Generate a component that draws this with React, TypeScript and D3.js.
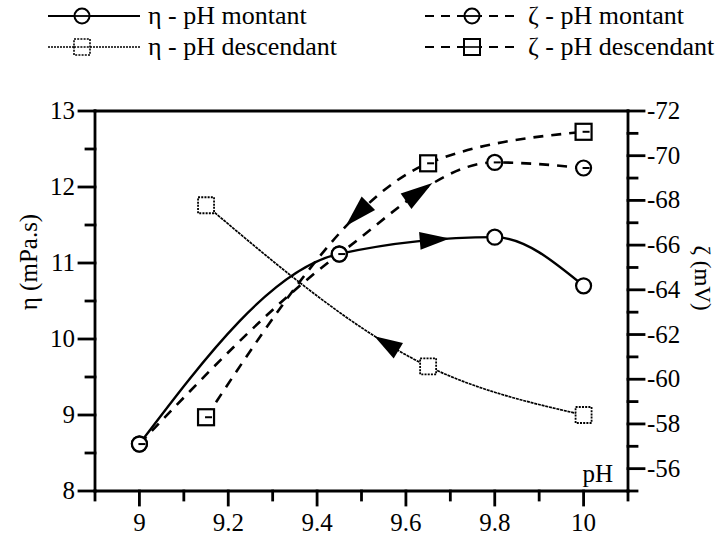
import React, { useEffect, useRef } from 'react';
import * as d3 from 'd3';

const W = 717;
const H = 536;

// pH values and measurements
const phMontant = [9, 9.45, 9.8, 10];
const etaMontant = [8.62, 11.12, 11.34, 10.7];
const zetaMontant = [-57.1, -65.6, -69.7, -69.45];

const phDescendant = [9.15, 9.65, 10];
const etaDescendant = [11.76, 9.64, 9.0];
const zetaDescendant = [-58.3, -69.66, -71.07];

// arrow positions (pH) along each curve
const arrowEtaMontant = 9.665;
const arrowZetaMontant = 9.63;
const arrowZetaDescendant = 9.49;
const arrowEtaDescendant = 9.556;

const xMajorTicks = [9, 9.2, 9.4, 9.6, 9.8, 10];
const xTickLabels = ['9', '9.2', '9.4', '9.6', '9.8', '10'];
const xMinorTicks = [8.9, 9.1, 9.3, 9.5, 9.7, 9.9, 10.1];
const etaMajorTicks = [8, 9, 10, 11, 12, 13];
const etaMinorTicks = [8.5, 9.5, 10.5, 11.5, 12.5];
const zetaMajorTicks = [-72, -70, -68, -66, -64, -62, -60, -58, -56];
const zetaMinorTicks = [-71, -69, -67, -65, -63, -61, -59, -57, -55];

const legendLabels = ['η - pH montant', 'ζ - pH montant', 'η - pH descendant', 'ζ - pH descendant'];

const FONT = "'Liberation Serif', 'Times New Roman', Times, 'DejaVu Serif', serif";

export default function App() {
  const ref = useRef<SVGSVGElement | null>(null);

  useEffect(() => {
    const svg = d3.select(ref.current);
    svg.selectAll('*').remove();

    const left = 95, right = 628, top = 111, bottom = 491;
    const x = d3.scaleLinear().domain([8.9, 10.1]).range([left, right]);
    const yEta = d3.scaleLinear().domain([8, 13]).range([bottom, top]);
    const yZeta = d3.scaleLinear().domain([-55, -72]).range([bottom, top]);

    const g = svg.append('g');
    const ax = g.append('g').attr('stroke', '#000').attr('stroke-width', 2.8).attr('stroke-linecap', 'square');

    ax.append('line').attr('x1', left).attr('x2', left).attr('y1', top).attr('y2', bottom);
    ax.append('line').attr('x1', right).attr('x2', right).attr('y1', top).attr('y2', bottom);
    ax.append('line').attr('x1', left).attr('x2', right).attr('y1', top).attr('y2', top);
    ax.append('line').attr('x1', left).attr('x2', right).attr('y1', bottom).attr('y2', bottom);

    const MAJ = 16, MIN = 9;
    xMajorTicks.forEach(v => ax.append('line').attr('x1', x(v)).attr('x2', x(v)).attr('y1', bottom).attr('y2', bottom + 14));
    xMinorTicks.forEach(v => ax.append('line').attr('x1', x(v)).attr('x2', x(v)).attr('y1', bottom).attr('y2', bottom + MIN));
    etaMajorTicks.forEach(v => ax.append('line').attr('x1', left - MAJ).attr('x2', left).attr('y1', yEta(v)).attr('y2', yEta(v)));
    etaMinorTicks.forEach(v => ax.append('line').attr('x1', left - MIN).attr('x2', left).attr('y1', yEta(v)).attr('y2', yEta(v)));
    zetaMajorTicks.forEach(v => ax.append('line').attr('x1', right).attr('x2', right + MAJ).attr('y1', yZeta(v)).attr('y2', yZeta(v)));
    zetaMinorTicks.forEach(v => ax.append('line').attr('x1', right).attr('x2', right + MIN).attr('y1', yZeta(v)).attr('y2', yZeta(v)));

    const txt = g.append('g').style('font-family', FONT).style('font-size', '25px').attr('fill', '#000');
    xMajorTicks.forEach((v, i) => txt.append('text').attr('x', x(v)).attr('y', 531).attr('text-anchor', 'middle').text(xTickLabels[i]));
    etaMajorTicks.forEach(v => txt.append('text').attr('x', 75).attr('y', yEta(v) + 8).attr('text-anchor', 'end').text(String(v)));
    zetaMajorTicks.forEach(v => txt.append('text').attr('x', 647).attr('y', yZeta(v) + 8).attr('text-anchor', 'start').text(String(v)));
    txt.append('text').attr('x', 613).attr('y', 482).attr('text-anchor', 'end').text('pH');
    txt.append('text').attr('transform', 'translate(37,262) rotate(-90)').attr('text-anchor', 'middle').text('η (mPa.s)');
    txt.append('text').attr('transform', 'translate(695,278) rotate(90)').attr('text-anchor', 'middle').style('font-size', '23px').text('ζ (mV)');

    const mk = (xs: number[], ys: number[], sc: (v: number) => number) =>
      d3.line<[number, number]>().x(d => x(d[0])).y(d => sc(d[1])).curve(d3.curveMonotoneX)(
        xs.map((p, i) => [p, ys[i]] as [number, number]));

    const plot = g.append('g').attr('fill', 'none').attr('stroke', '#000');
    const pEtaM = plot.append('path').attr('d', mk(phMontant, etaMontant, yEta)).attr('stroke-width', 2.4);
    const pZetaM = plot.append('path').attr('d', mk(phMontant, zetaMontant, yZeta)).attr('stroke-width', 2.6).attr('stroke-dasharray', '10,8');
    const pEtaD = plot.append('path').attr('d', mk(phDescendant, etaDescendant, yEta)).attr('stroke-width', 1.7).attr('stroke-dasharray', '3,0.8');
    const pZetaD = plot.append('path').attr('d', mk(phDescendant, zetaDescendant, yZeta)).attr('stroke-width', 2.6).attr('stroke-dasharray', '10,8');

    const arrowAt = (path: SVGPathElement, phv: number, forward: boolean, L: number, Wd: number) => {
      const total = path.getTotalLength();
      const tx = x(phv);
      let lo = 0, hi = total;
      for (let k = 0; k < 40; k++) {
        const mid = (lo + hi) / 2;
        if (path.getPointAtLength(mid).x < tx) lo = mid; else hi = mid;
      }
      const l = (lo + hi) / 2;
      const a = path.getPointAtLength(Math.max(0, l - 2));
      const b = path.getPointAtLength(Math.min(total, l + 2));
      let ang = Math.atan2(b.y - a.y, b.x - a.x);
      if (!forward) ang += Math.PI;
      const c = path.getPointAtLength(l);
      g.append('path')
        .attr('d', `M${L / 2},0 L${-L / 2},${-Wd / 2} L${-L / 2},${Wd / 2} Z`)
        .attr('transform', `translate(${c.x},${c.y}) rotate(${(ang * 180) / Math.PI})`)
        .attr('fill', '#000');
    };
    arrowAt(pEtaM.node() as SVGPathElement, arrowEtaMontant, true, 30, 18);
    arrowAt(pZetaM.node() as SVGPathElement, arrowZetaMontant, true, 32, 19);
    arrowAt(pZetaD.node() as SVGPathElement, arrowZetaDescendant, false, 32, 19);
    arrowAt(pEtaD.node() as SVGPathElement, arrowEtaDescendant, false, 28, 18);

    const mg = g.append('g').attr('stroke', '#000').attr('fill', '#fff');
    const circle = (cx: number, cy: number, dash: boolean) => {
      mg.append('circle').attr('cx', cx).attr('cy', cy).attr('r', 7.5).attr('stroke-width', 2.2);
      if (dash) mg.append('line').attr('x1', cx - 1).attr('x2', cx + 6).attr('y1', cy).attr('y2', cy).attr('stroke-width', 2);
    };
    const square = (cx: number, cy: number, dotted: boolean) => {
      mg.append('rect').attr('x', cx - 8).attr('y', cy - 8).attr('width', 16).attr('height', 16)
        .attr('stroke-width', dotted ? 1.8 : 2.2).attr('stroke-dasharray', dotted ? '2,1.2' : null);
      if (!dotted) mg.append('line').attr('x1', cx - 1).attr('x2', cx + 6).attr('y1', cy).attr('y2', cy).attr('stroke-width', 2);
    };
    phMontant.forEach((p, i) => circle(x(p), yEta(etaMontant[i]), false));
    phMontant.forEach((p, i) => circle(x(p), yZeta(zetaMontant[i]), true));
    phDescendant.forEach((p, i) => square(x(p), yEta(etaDescendant[i]), true));
    phDescendant.forEach((p, i) => square(x(p), yZeta(zetaDescendant[i]), false));

    // legend
    const lg = g.append('g');
    const rows = [16, 47];
    const cols = [{ x1: 48, x2: 140, m: 82, t: 148 }, { x1: 425, x2: 520, m: 472, t: 528 }];
    const items = [
      { c: 0, r: 0, dash: null as string | null, sw: 2.2, marker: 'circle', dotted: false },
      { c: 1, r: 0, dash: '9,7', sw: 2.2, marker: 'circle', dotted: false },
      { c: 0, r: 1, dash: '2,1', sw: 1.5, marker: 'square', dotted: true },
      { c: 1, r: 1, dash: '9,7', sw: 2.2, marker: 'square', dotted: false },
    ];
    items.forEach((it, i) => {
      const col = cols[it.c];
      const yy = rows[it.r];
      lg.append('line').attr('x1', col.x1).attr('x2', col.x2).attr('y1', yy).attr('y2', yy)
        .attr('stroke', '#000').attr('stroke-width', it.sw).attr('stroke-dasharray', it.dash);
      if (it.marker === 'circle') {
        lg.append('circle').attr('cx', col.m).attr('cy', yy).attr('r', 7.5).attr('fill', '#fff').attr('stroke', '#000').attr('stroke-width', 2);
        lg.append('line').attr('x1', col.m - 7).attr('x2', col.m + 7).attr('y1', yy).attr('y2', yy).attr('stroke', '#000').attr('stroke-width', 1.8);
      } else {
        lg.append('rect').attr('x', col.m - 8).attr('y', yy - 8).attr('width', 16).attr('height', 16).attr('fill', '#fff')
          .attr('stroke', '#000').attr('stroke-width', it.dotted ? 1.6 : 2).attr('stroke-dasharray', it.dotted ? '2,1.2' : null);
        lg.append('line').attr('x1', col.m - 8).attr('x2', col.m + 8).attr('y1', yy).attr('y2', yy).attr('stroke', '#000')
          .attr('stroke-width', 1.6).attr('stroke-dasharray', it.dotted ? '2,1.2' : null);
      }
      lg.append('text').attr('x', col.t).attr('y', yy + 8).style('font-family', FONT).style('font-size', '26px').text(legendLabels[i]);
    });
  }, []);

  return (
    <svg ref={ref} width={W} height={H} viewBox={`0 0 ${W} ${H}`}
      style={{ position: 'absolute', left: 0, top: 0, background: '#fff', display: 'block' }} />
  );
}
